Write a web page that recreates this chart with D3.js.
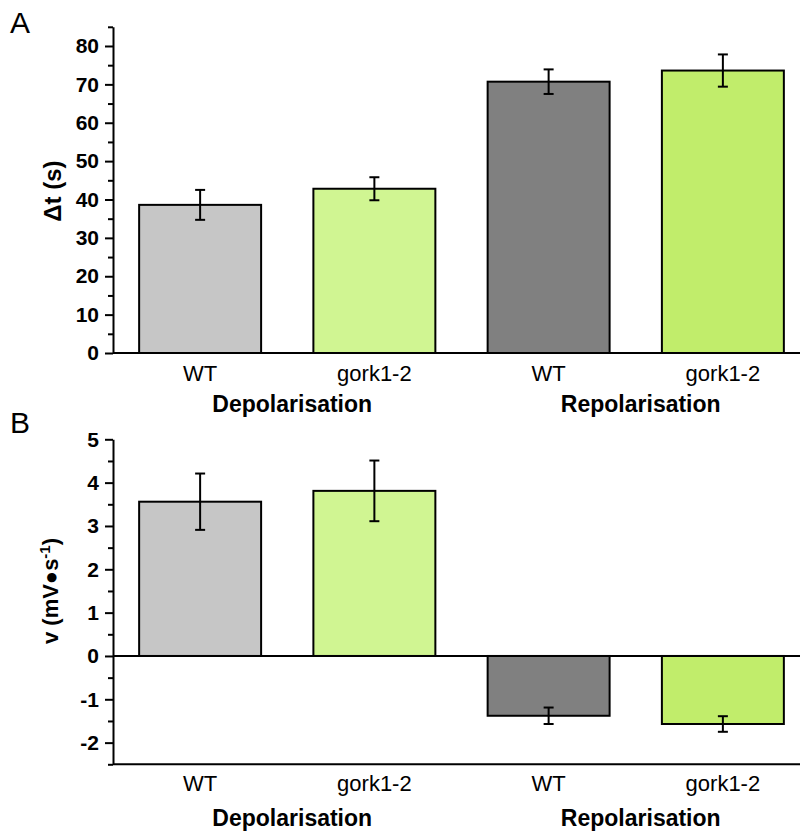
<!DOCTYPE html>
<html>
<head>
<meta charset="utf-8">
<script src="https://cdn.jsdelivr.net/npm/d3@7"></script>
<style>
  html, body { margin: 0; padding: 0; background: #fff; }
  svg { display: block; }
  text { font-family: "Liberation Sans", Arial, Helvetica, sans-serif; fill: #000; }
</style>
</head>
<body>
<svg id="chart" width="800" height="832"></svg>
<script>
// Categories and groups
const categories = ["WT", "gork1-2", "WT", "gork1-2"];
const groups = ["Depolarisation", "Repolarisation"];
const barColors = ["#c6c6c6", "#d0f592", "#808080", "#c1ed6b"];

// Panel A: duration (s), mean ± error
const dtMean = [38.6, 42.8, 70.7, 73.6];
const dtErr = [3.9, 3.0, 3.2, 4.2];
const dtTicks = [0, 10, 20, 30, 40, 50, 60, 70, 80];

// Panel B: rate (mV·s-1), mean ± error
const vMean = [3.56, 3.81, -1.38, -1.57];
const vErr = [0.65, 0.70, 0.19, 0.18];
const vTicks = [-2, -1, 0, 1, 2, 3, 4, 5];

const svg = d3.select("#chart");
const axisX = 113;

const x = d3.scaleBand()
  .domain(d3.range(categories.length))
  .range([axisX, 810])
  .paddingInner(0.3)
  .paddingOuter(0.15);

function panel(opts) {
  const { means, errs, ticks, y, letter, letterY, title, titleY, titleSize, labelDy, groupDy, xAxisY, zeroLine } = opts;
  const g = svg.append("g");

  // Panel letter
  g.append("text")
    .attr("x", 10).attr("y", letterY)
    .style("font-size", "30px")
    .text(letter);

  // Bars
  g.selectAll("rect.bar")
    .data(means)
    .join("rect")
    .attr("class", "bar")
    .attr("x", (d, i) => x(i))
    .attr("width", x.bandwidth())
    .attr("y", d => y(Math.max(0, d)))
    .attr("height", d => Math.abs(y(d) - y(0)))
    .attr("fill", (d, i) => barColors[i])
    .attr("stroke", "#000")
    .attr("stroke-width", 2);

  // Error bars
  const eb = g.selectAll("g.err")
    .data(means.map((m, i) => ({ m, e: errs[i], i })))
    .join("g")
    .attr("class", "err")
    .attr("stroke", "#000")
    .attr("stroke-width", 2);
  const cx = d => x(d.i) + x.bandwidth() / 2;
  eb.append("line")
    .attr("x1", cx).attr("x2", cx)
    .attr("y1", d => y(d.m + d.e)).attr("y2", d => y(d.m - d.e));
  eb.append("line")
    .attr("x1", d => cx(d) - 5).attr("x2", d => cx(d) + 5)
    .attr("y1", d => y(d.m + d.e)).attr("y2", d => y(d.m + d.e));
  eb.append("line")
    .attr("x1", d => cx(d) - 5).attr("x2", d => cx(d) + 5)
    .attr("y1", d => y(d.m - d.e)).attr("y2", d => y(d.m - d.e));

  // Zero line / x axis lines
  if (zeroLine) {
    g.append("line")
      .attr("x1", axisX).attr("x2", 800)
      .attr("y1", y(0)).attr("y2", y(0))
      .attr("stroke", "#000").attr("stroke-width", 2);
  }
  g.append("line")
    .attr("x1", axisX).attr("x2", 800)
    .attr("y1", xAxisY).attr("y2", xAxisY)
    .attr("stroke", "#000").attr("stroke-width", 2);

  // Y axis: minor ticks, then major ticks with labels
  const [d0, d1] = y.domain();
  const step = ticks[1] - ticks[0];
  const minor = d3.range(Math.ceil(d0 / (step / 2)) * (step / 2), d1 + 1e-9, step / 2)
    .filter(v => !ticks.some(t => Math.abs(t - v) < 1e-9));
  const yMinor = d3.axisLeft(y).tickValues(minor).tickSize(5).tickFormat("");
  g.append("g")
    .attr("transform", `translate(${axisX},0)`)
    .call(yMinor)
    .call(s => s.select(".domain").remove())
    .call(s => s.selectAll("line").attr("stroke-width", 2));

  const yAxis = d3.axisLeft(y).tickValues(ticks).tickSize(8).tickPadding(6).tickSizeOuter(0)
    .tickFormat(d => String(d));
  g.append("g")
    .attr("transform", `translate(${axisX},0)`)
    .attr("font-size", 21)
    .attr("font-family", "'Liberation Sans', Arial, sans-serif")
    .call(yAxis)
    .call(s => s.select(".domain").attr("stroke-width", 2))
    .call(s => s.selectAll("line").attr("stroke-width", 2))
    .call(s => s.selectAll("text")
      .style("font-size", "21px")
      .style("font-weight", "bold"));

  // Y title
  const t = g.append("text")
    .attr("transform", `translate(${titleY[0]},${titleY[1]}) rotate(-90)`)
    .attr("text-anchor", "middle")
    .style("font-size", titleSize + "px")
    .style("font-weight", "bold");
  title(t);

  // Category labels
  g.selectAll("text.cat")
    .data(categories)
    .join("text")
    .attr("class", "cat")
    .attr("x", (d, i) => x(i) + x.bandwidth() / 2)
    .attr("y", xAxisY + labelDy)
    .attr("text-anchor", "middle")
    .style("font-size", "22px")
    .text(d => d);

  // Group labels
  g.selectAll("text.grp")
    .data(groups)
    .join("text")
    .attr("class", "grp")
    .attr("x", (d, i) => (x(2 * i) + x(2 * i + 1) + x.bandwidth()) / 2 + 5)
    .attr("y", xAxisY + groupDy)
    .attr("text-anchor", "middle")
    .style("font-size", "23px")
    .style("font-weight", "bold")
    .text(d => d);
}

// Panel A
const yA = d3.scaleLinear().domain([0, 85]).range([353, 26.8]);
panel({
  means: dtMean, errs: dtErr, ticks: dtTicks, y: yA,
  letter: "A", letterY: 33,
  title: t => t.text("\u0394t (s)"),
  titleY: [61, 191], titleSize: 24,
  labelDy: 28, groupDy: 59, xAxisY: 353, zeroLine: false
});

// Panel B
const yB = d3.scaleLinear().domain([-2.5, 5]).range([764.3, 439.3]);
panel({
  means: vMean, errs: vErr, ticks: vTicks, y: yB,
  letter: "B", letterY: 433,
  title: t => {
    t.append("tspan").text("v (mV\u25CFs");
    t.append("tspan").attr("dy", -8).style("font-size", "15px").text("-1");
    t.append("tspan").attr("dy", 8).text(")");
  },
  titleY: [58, 591], titleSize: 22,
  labelDy: 27, groupDy: 62, xAxisY: 764.3, zeroLine: true
});
</script>
</body>
</html>
